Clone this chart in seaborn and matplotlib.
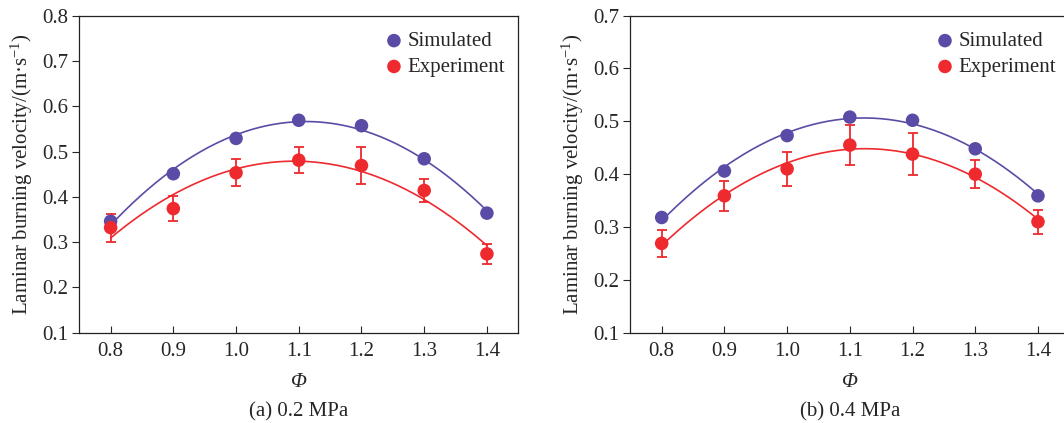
import numpy as np
import pandas as pd
import matplotlib
matplotlib.use("Agg")
import matplotlib.pyplot as plt
import seaborn as sns

# equivalence ratio
phi = [0.8, 0.9, 1.0, 1.1, 1.2, 1.3, 1.4]

# 0.2 MPa
sim_02 = [0.346, 0.451, 0.529, 0.569, 0.557, 0.484, 0.364]
exp_02 = [0.332, 0.374, 0.453, 0.481, 0.469, 0.414, 0.274]
err_02 = [0.031, 0.028, 0.030, 0.028, 0.040, 0.026, 0.022]

# 0.4 MPa
sim_04 = [0.318, 0.406, 0.473, 0.508, 0.502, 0.448, 0.359]
exp_04 = [0.269, 0.359, 0.410, 0.455, 0.438, 0.400, 0.310]
err_04 = [0.026, 0.028, 0.032, 0.038, 0.040, 0.027, 0.023]

panels = [
    ("(a) 0.2 MPa", sim_02, exp_02, err_02, (0.1, 0.8)),
    ("(b) 0.4 MPa", sim_04, exp_04, err_04, (0.1, 0.7)),
]

SIM_COLOR = "#5a4ca6"
EXP_COLOR = "#ee2a2e"
FS = 15

sns.set_style("ticks")
plt.rcParams["font.family"] = ["Liberation Serif", "DejaVu Serif"]
plt.rcParams["mathtext.fontset"] = "custom"
plt.rcParams["mathtext.rm"] = "Liberation Serif"
plt.rcParams["mathtext.it"] = "Liberation Serif:italic"
plt.rcParams["font.size"] = FS

fig = plt.figure(figsize=(10.64, 4.23), dpi=100)
ax_pos = [[0.0745, 0.2135, 0.4126, 0.7495], [0.5924, 0.2135, 0.4126, 0.7495]]

for (title, sim, exp, err, ylim), pos in zip(panels, ax_pos):
    ax = fig.add_axes(pos)
    df = pd.DataFrame({"phi": phi, "sim": sim, "exp": exp, "err": err})

    # quadratic trend lines through each series
    xs = np.linspace(phi[0], phi[-1], 200)
    fit_sim = np.polyval(np.polyfit(phi, sim, 2), xs)
    fit_exp = np.polyval(np.polyfit(phi, exp, 2), xs)
    sns.lineplot(x=xs, y=fit_sim, ax=ax, color=SIM_COLOR, lw=1.2, zorder=2)
    sns.lineplot(x=xs, y=fit_exp, ax=ax, color=EXP_COLOR, lw=1.2, zorder=2)

    ax.errorbar(df["phi"], df["exp"], yerr=df["err"], fmt="none",
                ecolor=EXP_COLOR, elinewidth=1.3, capsize=3.5, capthick=1.3, zorder=3)
    sns.scatterplot(data=df, x="phi", y="sim", ax=ax, color=SIM_COLOR, s=95,
                    edgecolor="none", label="Simulated", zorder=4)
    sns.scatterplot(data=df, x="phi", y="exp", ax=ax, color=EXP_COLOR, s=95,
                    edgecolor="none", label="Experiment", zorder=5)

    ax.set_xlim(0.75, 1.45)
    ax.set_ylim(*ylim)
    yt = np.arange(ylim[0], ylim[1] + 0.001, 0.1)
    ax.set_xticks(phi)
    ax.set_xticklabels([f"{v:.1f}" for v in phi])
    ax.set_yticks(yt)
    ax.set_yticklabels([f"{v:.1f}" for v in yt])
    ax.tick_params(axis="x", direction="in", length=5, width=0.8, pad=7, labelsize=FS)
    ax.tick_params(axis="y", direction="out", length=5, width=0.8, pad=3, labelsize=FS)
    for sp in ax.spines.values():
        sp.set_linewidth(0.9)
        sp.set_color("#222222")

    ax.set_xlabel("Φ", fontstyle="italic", fontsize=FS, labelpad=8)
    ax.set_ylabel("Laminar burning velocity/(m·s$^{-1}$)", fontsize=FS, labelpad=5)

    ax.legend(loc="upper right", bbox_to_anchor=(0.97, 0.95), frameon=False,
              fontsize=FS, handlelength=0.9, handletextpad=0.2, labelspacing=0.3,
              borderpad=0, borderaxespad=0)

    fig.text(pos[0] + pos[2] / 2, 0.026, title, ha="center", va="center", fontsize=FS)

fig.savefig("out.png", dpi=100)
